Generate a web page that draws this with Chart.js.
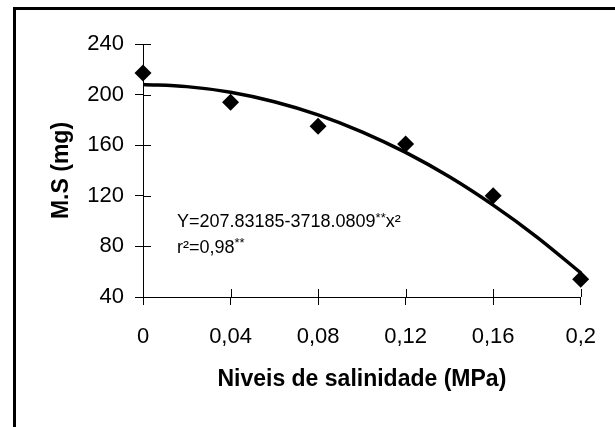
<!DOCTYPE html>
<html>
<head>
<meta charset="utf-8">
<script src="https://cdn.jsdelivr.net/npm/chart.js@4"></script>
<style>
  html, body { margin: 0; padding: 0; background: #fff; }
  #wrap { position: relative; width: 615px; height: 427px; }
</style>
</head>
<body>
<div id="wrap"><canvas id="chart" width="615" height="427"></canvas></div>
<script>
// salinity levels (MPa) and measured dry mass (mg)
const salinity = [0, 0.04, 0.08, 0.12, 0.16, 0.2];
const dryMass = [217, 194, 175, 161, 120, 54];

// fitted curve
const fitX = [0, 0.02, 0.04, 0.06, 0.08, 0.10, 0.12, 0.14, 0.16, 0.18, 0.2];
const fitY = [208, 206.3, 201.9, 194.4, 184.0, 170.6, 154.3, 135.0, 112.6, 87.4, 59.1];

const xTicks = [0, 0.04, 0.08, 0.12, 0.16, 0.2];
const xTickLabels = ['0', '0,04', '0,08', '0,12', '0,16', '0,2'];
const yTicks = [40, 80, 120, 160, 200, 240];

const FONT = "'Liberation Sans', Arial, sans-serif";

const ctx = document.getElementById('chart').getContext('2d');

// frame + inner half of the cross ticks + regression text
const extras = {
  id: 'extras',
  beforeDraw(chart) {
    const c = chart.ctx;
    c.save();
    c.fillStyle = '#fff';
    c.fillRect(0, 0, chart.width, chart.height);
    c.strokeStyle = '#000';
    c.lineWidth = 3;
    c.beginPath();
    c.moveTo(14.5, chart.height);
    c.lineTo(14.5, 8.5);
    c.lineTo(chart.width, 8.5);
    c.stroke();
    c.restore();
  },
  afterDraw(chart) {
    const c = chart.ctx;
    const { x, y } = chart.scales;
    c.save();
    c.strokeStyle = '#000';
    c.lineWidth = 1;
    c.beginPath();
    xTicks.forEach(v => {
      const px = Math.round(x.getPixelForValue(v)) + 0.5;
      c.moveTo(px, y.bottom);
      c.lineTo(px, y.bottom - 8);
    });
    yTicks.forEach(v => {
      const py = Math.round(y.getPixelForValue(v)) + 0.5;
      c.moveTo(x.left, py);
      c.lineTo(x.left + 8, py);
    });
    c.stroke();

    // regression equation
    c.fillStyle = '#000';
    c.textBaseline = 'middle';
    const x0 = x.getPixelForValue(0.0155);
    let tx = x0;
    let ty = y.getPixelForValue(99);
    c.font = '18px ' + FONT;
    let s = 'Y=207.83185-3718.0809';
    c.fillText(s, tx, ty);
    tx += c.measureText(s).width;
    c.font = '13px ' + FONT;
    c.fillText('**', tx, ty - 4);
    tx += c.measureText('**').width;
    c.font = '18px ' + FONT;
    c.fillText('x²', tx, ty);

    tx = x0;
    ty = y.getPixelForValue(79);
    s = 'r²=0,98';
    c.fillText(s, tx, ty);
    tx += c.measureText(s).width;
    c.font = '13px ' + FONT;
    c.fillText('**', tx, ty - 4);
    c.restore();
  }
};

new Chart(ctx, {
  type: 'scatter',
  data: {
    datasets: [
      {
        label: 'M.S',
        data: salinity.map((v, i) => ({ x: v, y: dryMass[i] })),
        pointStyle: 'rectRot',
        pointRadius: 8.5,
        pointBackgroundColor: '#000',
        pointBorderColor: '#000',
        pointBorderWidth: 0,
        showLine: false,
        clip: false,
        order: 1
      },
      {
        label: 'ajuste',
        data: fitX.map((v, i) => ({ x: v, y: fitY[i] })),
        showLine: true,
        borderColor: '#000',
        borderWidth: 3.5,
        pointRadius: 0,
        cubicInterpolationMode: 'monotone',
        clip: false,
        order: 2
      }
    ]
  },
  plugins: [extras],
  options: {
    responsive: false,
    animation: false,
    events: [],
    layout: { padding: { left: 20, top: 44, right: 33, bottom: 34 } },
    plugins: {
      legend: { display: false },
      tooltip: { enabled: false }
    },
    scales: {
      x: {
        type: 'linear',
        min: 0,
        max: 0.2,
        afterFit: s => { s.height = 96; },
        afterBuildTicks: s => { s.ticks = xTicks.map(v => ({ value: v })); },
        grid: { drawOnChartArea: false, tickLength: 8, color: '#000' },
        border: { color: '#000', width: 1 },
        ticks: {
          color: '#000',
          padding: 19,
          maxRotation: 0,
          autoSkip: false,
          font: { family: FONT, size: 22 },
          callback: (v, i) => xTickLabels[i]
        },
        title: {
          display: true,
          text: 'Niveis de salinidade (MPa)',
          color: '#000',
          padding: { top: 4, bottom: 0 },
          font: { family: FONT, size: 23, weight: 'bold' }
        }
      },
      y: {
        min: 40,
        max: 240,
        afterFit: s => { s.width = 123; },
        afterBuildTicks: s => { s.ticks = yTicks.map(v => ({ value: v })); },
        grid: { drawOnChartArea: false, tickLength: 8, color: '#000' },
        border: { color: '#000', width: 1 },
        ticks: {
          color: '#000',
          padding: 11,
          font: { family: FONT, size: 22 }
        },
        title: {
          display: true,
          text: 'M.S (mg)',
          color: '#000',
          padding: { top: 28, bottom: 0 },
          font: { family: FONT, size: 23, weight: 'bold' }
        }
      }
    }
  }
});
</script>
</body>
</html>
